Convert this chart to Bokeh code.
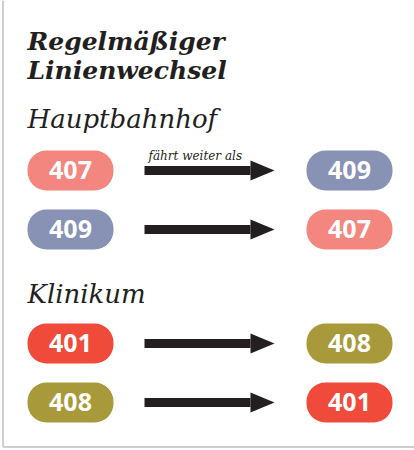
from bokeh.plotting import figure
from bokeh.models import Range1d, ColumnDataSource
from bokeh.core.properties import value
from bokeh.embed import file_html
from bokeh.resources import INLINE

# ---- data ----
title_lines = ["Regelmäßiger", "Linienwechsel"]
stations = ["Hauptbahnhof", "Klinikum"]
from_lines = ["407", "409", "401", "408"]
to_lines = ["409", "407", "408", "401"]
arrow_label = "fährt weiter als"
line_colors = {"407": "#F48680", "409": "#8792B4", "401": "#F04B3A", "408": "#A89A3A"}

# ---- layout (pixels, figure coordinates, y downwards) ----
W, H = 414, 450
X0 = 27
TITLE_BASE = [41, 70]
STATION_BASE = [118, 293]
ROW_Y = [170, 229, 343, 402]
PILL_W, PILL_H, PILL_R = 86, 40, 19
LEFT_X, RIGHT_X = 27, 306
SHAFT_X0, SHAFT_X1, HEAD_X1 = 144, 250, 274
SHAFT_T, HEAD_T = 9, 20
DARK = "#231F20"

p = figure(width=W, height=H, output_backend="svg", toolbar_location=None,
           x_range=Range1d(0, W), y_range=Range1d(H, 0),
           min_border=0, outline_line_color=None)
p.axis.visible = False
p.grid.visible = False
p.background_fill_color = "white"

# border (left and bottom)
p.segment(x0=[2.5, 2.5], y0=[0, 446.5], x1=[2.5, W], y1=[446.5, 446.5],
          line_color="#CFCFCF", line_width=2)

# title
p.text(x=[X0] * len(title_lines), y=TITLE_BASE, text=title_lines,
       text_font=value("DejaVu Serif"), text_font_style="bold italic",
       text_font_size="25px", text_color=DARK, text_baseline="alphabetic")

# station names
p.text(x=[X0] * len(stations), y=STATION_BASE, text=stations,
       text_font=value("DejaVu Serif"), text_font_style="italic",
       text_font_size="26px", text_color=DARK, text_baseline="alphabetic")

# pills
pill_src = ColumnDataSource(dict(
    left=[LEFT_X] * 4 + [RIGHT_X] * 4,
    right=[LEFT_X + PILL_W] * 4 + [RIGHT_X + PILL_W] * 4,
    top=[y - PILL_H / 2 for y in ROW_Y] * 2,
    bottom=[y + PILL_H / 2 for y in ROW_Y] * 2,
    color=[line_colors[l] for l in from_lines + to_lines],
    label=from_lines + to_lines,
    cx=[LEFT_X + PILL_W / 2] * 4 + [RIGHT_X + PILL_W / 2] * 4,
    ty=[y - 1 for y in ROW_Y] * 2,
))
p.quad(left="left", right="right", top="top", bottom="bottom", source=pill_src,
       fill_color="color", line_color=None, border_radius=PILL_R)
p.text(x="cx", y="ty", text="label", source=pill_src,
       text_font=value("Open Sans"), text_font_style="bold",
       text_font_size="25px", text_color="white",
       text_align="center", text_baseline="alphabetic")

# arrows
p.quad(left=[SHAFT_X0] * 4, right=[SHAFT_X1] * 4,
       top=[y - SHAFT_T / 2 for y in ROW_Y], bottom=[y + SHAFT_T / 2 for y in ROW_Y],
       fill_color=DARK, line_color=None)
p.patches(xs=[[SHAFT_X1, HEAD_X1, SHAFT_X1] for _ in ROW_Y],
          ys=[[y - HEAD_T / 2, y, y + HEAD_T / 2] for y in ROW_Y],
          fill_color=DARK, line_color=None)

p.text(x=[SHAFT_X0 + 4], y=[ROW_Y[0] - 15], text=[arrow_label],
       text_font=value("DejaVu Serif"), text_font_style="italic",
       text_font_size="12px", text_color=DARK, text_baseline="alphabetic")

open("out.html", "w").write(file_html(p, INLINE))
